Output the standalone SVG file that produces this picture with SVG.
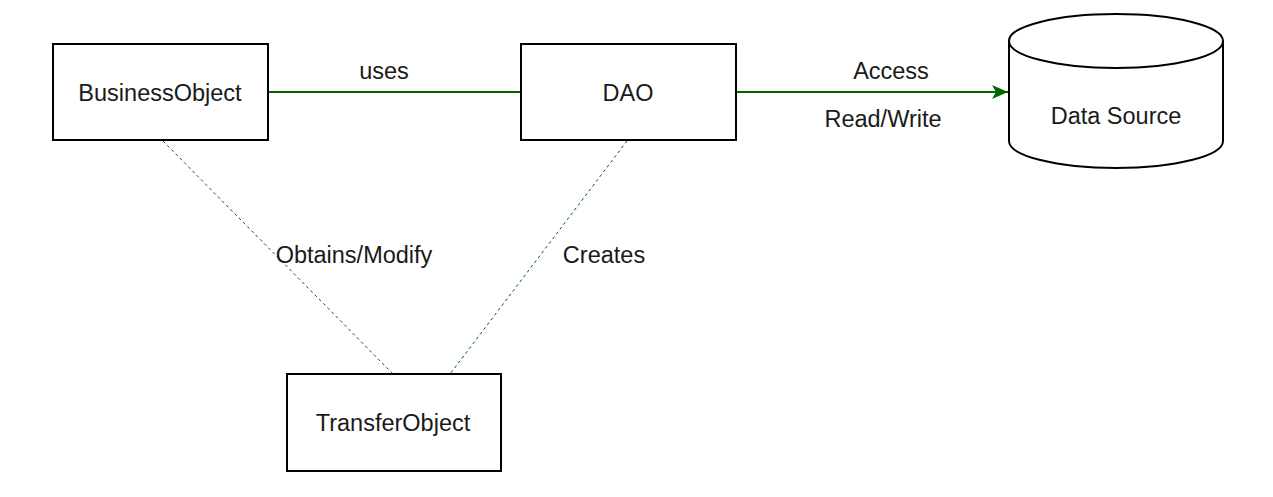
<svg xmlns="http://www.w3.org/2000/svg" width="1273" height="497" viewBox="0 0 1273 497">
<style>
.box{fill:#fff;stroke:#000;stroke-width:2}
.t{font-family:"Liberation Sans",Arial,sans-serif;font-size:23.5px;fill:#1a1a1a;text-anchor:middle}
.solid{stroke:#006600;stroke-width:2;fill:none}
.dash{stroke:#006600;stroke-width:1;stroke-dasharray:3 3;fill:none}
</style>
<defs>
<marker id="arr" markerWidth="16" markerHeight="14" refX="16" refY="7" orient="auto" markerUnits="userSpaceOnUse">
<path d="M0,0 L16,7 L0,14 L4,7 Z" fill="#006600"/>
</marker>
</defs>
<rect width="1273" height="497" fill="#fff"/>
<g id="connectors">
<line class="solid" x1="268" y1="92" x2="521" y2="92"/>
<line class="solid" x1="736" y1="92" x2="1008" y2="92" marker-end="url(#arr)"/>
<line class="dash" x1="163" y1="141" x2="393" y2="374"/>
<line class="dash" x1="627" y1="141" x2="450" y2="374"/>
<text class="t" x="384" y="79">uses</text>
<text class="t" x="891" y="79">Access</text>
<text class="t" x="883" y="127">Read/Write</text>
<text class="t" x="354" y="263">Obtains/Modify</text>
<text class="t" x="604" y="263">Creates</text>
</g>
<g id="BusinessObject">
<rect class="box" x="53" y="44" width="215" height="96"/>
<text class="t" x="160" y="101">BusinessObject</text>
</g>
<g id="DAO">
<rect class="box" x="521" y="44" width="215" height="96"/>
<text class="t" x="628" y="101">DAO</text>
</g>
<g id="DataSource">
<path class="box" d="M1009,41 A107,27 0 0 1 1223,41 L1223,141 A107,27 0 0 1 1009,141 Z"/>
<path class="box" fill="none" d="M1009,41 A107,27 0 0 0 1223,41"/>
<text class="t" x="1116" y="124">Data Source</text>
</g>
<g id="TransferObject">
<rect class="box" x="287" y="374" width="214" height="97"/>
<text class="t" x="393" y="431">TransferObject</text>
</g>
</svg>
